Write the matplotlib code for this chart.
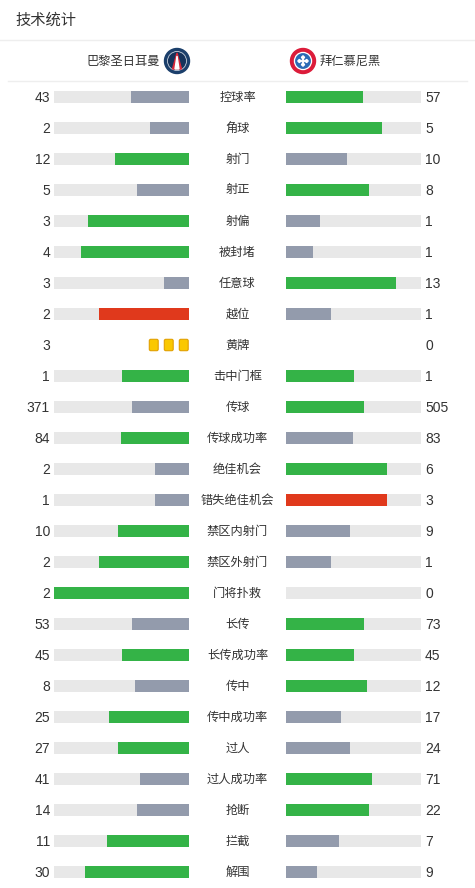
import matplotlib
matplotlib.use("Agg")
import matplotlib.pyplot as plt
from matplotlib.patches import Circle, FancyBboxPatch, Polygon, RegularPolygon

plt.rcParams['font.family'] = ['Noto Sans CJK SC', 'DejaVu Sans']

title = "技术统计"
home_team = "巴黎圣日耳曼"
away_team = "拜仁慕尼黑"
labels = ['控球率', '角球', '射门', '射正', '射偏', '被封堵', '任意球', '越位', '黄牌',
          '击中门框', '传球', '传球成功率', '绝佳机会', '错失绝佳机会', '禁区内射门',
          '禁区外射门', '门将扑救', '长传', '长传成功率', '传中', '传中成功率', '过人',
          '过人成功率', '抢断', '拦截', '解围']
home = [43, 2, 12, 5, 3, 4, 3, 2, 3, 1, 371, 84, 2, 1, 10, 2, 2, 53, 45, 8, 25, 27, 41, 14, 11, 30]
away = [57, 5, 10, 8, 1, 1, 13, 1, 0, 1, 505, 83, 6, 3, 9, 1, 0, 73, 45, 12, 17, 24, 71, 22, 7, 9]
bad_stats = ['越位', '错失绝佳机会']
card_stats = ['黄牌']

GREEN = '#34b347'
GRAY = '#939bac'
RED = '#e0391c'
TRACK = '#e8e8e8'
TEXT = '#333333'
YELLOW = '#fac800'
NUMFONT = ['Liberation Sans', 'DejaVu Sans']

W, H = 475, 888
fig = plt.figure(figsize=(W / 100, H / 100), dpi=100)
ax = fig.add_axes([0, 0, 1, 1])
ax.set_xlim(0, W)
ax.set_ylim(H, 0)
ax.axis('off')

# header
ax.text(15, 20, title, fontsize=11, color=TEXT, va='center', ha='left')
ax.plot([0, W], [40.5, 40.5], color='#eeeeee', lw=1)
ax.plot([8, 467], [81.5, 81.5], color='#eeeeee', lw=1)
ax.text(160, 61, home_team, fontsize=8.8, color=TEXT, va='center', ha='right')
ax.text(320, 61, away_team, fontsize=8.8, color=TEXT, va='center', ha='left')

# PSG-like logo
ax.add_patch(Circle((177, 61), 12.5, color='#1b3f6b', zorder=3))
ax.add_patch(Circle((177, 61), 9.5, color='#15335c', ec='#c8d0dc', lw=0.6, zorder=4))
ax.add_patch(Polygon([(177, 53), (172.5, 69), (181.5, 69)], closed=True, color='#d8283a', zorder=5))
ax.add_patch(Polygon([(177, 56), (175, 69), (179, 69)], closed=True, color='white', zorder=6))
# Bayern-like logo
ax.add_patch(Circle((303, 61), 12.5, color='#dc1c3a', zorder=3))
ax.add_patch(Circle((303, 61), 8.5, color='white', zorder=4))
ax.add_patch(Circle((303, 61), 7.2, color='#2b6bb5', zorder=5))
for dx in (-3.6, 0, 3.6):
    for dy in (-3.6, 0, 3.6):
        if abs(dx) + abs(dy) < 6:
            ax.add_patch(RegularPolygon((303 + dx, 61 + dy), 4, radius=1.6,
                                        color='white', zorder=6))

L_END, R_START, BAR_W, BAR_H = 189, 286, 135, 12
y0, dy = 97, 31

for i, (lab, h, a) in enumerate(zip(labels, home, away)):
    y = y0 + dy * i
    ax.text(50, y + 0.8, str(h), fontsize=10, color=TEXT, va='center', ha='right', family=NUMFONT)
    ax.text(425, y + 0.8, str(a), fontsize=10, color=TEXT, va='center', ha='left', family=NUMFONT)
    ax.text(237.5, y, lab, fontsize=8.8, color=TEXT, va='center', ha='center')
    if lab in card_stats:
        for k in range(h):
            x = L_END - 10.5 - 15 * k
            ax.add_patch(FancyBboxPatch((x + 0.8, y - 5.7), 8.9, 11.4,
                                        boxstyle='round,pad=0,rounding_size=1.5',
                                        fc=YELLOW, ec='#e2a000', lw=0.8, zorder=3))
        for k in range(a):
            x = R_START + 15 * k
            ax.add_patch(FancyBboxPatch((x + 0.8, y - 5.7), 8.9, 11.4,
                                        boxstyle='round,pad=0,rounding_size=1.5',
                                        fc=YELLOW, ec='#e2a000', lw=0.8, zorder=3))
        continue
    tot = h + a
    fh = h / tot if tot else 0
    fa = a / tot if tot else 0
    if h == a:
        ch = ca = GREEN
    elif lab in bad_stats:
        ch, ca = (RED, GRAY) if h > a else (GRAY, RED)
    else:
        ch, ca = (GREEN, GRAY) if h > a else (GRAY, GREEN)
    ax.barh(y, BAR_W, left=L_END - BAR_W, height=BAR_H, color=TRACK, zorder=1)
    ax.barh(y, BAR_W, left=R_START, height=BAR_H, color=TRACK, zorder=1)
    ax.barh(y, BAR_W * fh, left=L_END - BAR_W * fh, height=BAR_H, color=ch, zorder=2)
    ax.barh(y, BAR_W * fa, left=R_START, height=BAR_H, color=ca, zorder=2)

fig.savefig('out.png', dpi=100, facecolor='white')
